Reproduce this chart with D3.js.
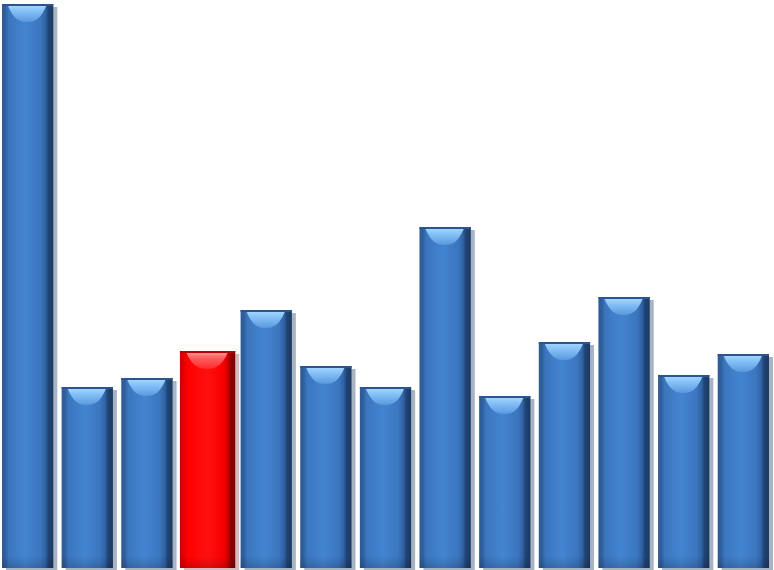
<!DOCTYPE html>
<html>
<head>
<meta charset="utf-8">
<script src="https://cdn.jsdelivr.net/npm/d3@7"></script>
<style>
html,body{margin:0;padding:0;background:#fff;}
svg{display:block;}
</style>
</head>
<body>
<svg id="chart" width="774" height="570"></svg>
<script>
const categories = ["1","2","3","4","5","6","7","8","9","10","11","12","13"];
const values = [564, 181, 190, 217, 258, 202, 181, 341, 172, 226, 271, 193, 214];
const highlighted = ["4"];

const W = 774, H = 570;
const svg = d3.select("#chart");
const x = d3.scaleBand().domain(categories).range([2, 769]).paddingInner(0.14).paddingOuter(0);
const y = d3.scaleLinear().domain([0, d3.max(values)]).range([568, 4]);

const defs = svg.append("defs");
function hgrad(id, stops) {
  const g = defs.append("linearGradient").attr("id", id).attr("x1", 0).attr("x2", 1).attr("y1", 0).attr("y2", 0);
  stops.forEach(s => g.append("stop").attr("offset", s[0]).attr("stop-color", s[1]));
}
function vgrad(id, stops) {
  const g = defs.append("linearGradient").attr("id", id).attr("x1", 0).attr("x2", 0).attr("y1", 0).attr("y2", 1);
  stops.forEach(s => g.append("stop").attr("offset", s[0]).attr("stop-color", s[1]).attr("stop-opacity", s[2] == null ? 1 : s[2]));
}
hgrad("blueBody", [[0,"#2d5a94"],[0.07,"#30609f"],[0.13,"#3b76be"],[0.45,"#4384d0"],[0.75,"#3b76bf"],[0.85,"#3062a3"],[0.9,"#214576"],[1,"#1b3962"]]);
hgrad("redBody", [[0,"#d00000"],[0.07,"#e40000"],[0.14,"#ff0000"],[0.5,"#ff1010"],[0.8,"#f60000"],[0.87,"#c80000"],[0.92,"#900000"],[1,"#7a0000"]]);
vgrad("blueCap", [[0,"#a2d4ff"],[0.3,"#86c2f8"],[1,"#5a98dd"]]);
vgrad("redCap", [[0,"#ff9090"],[0.3,"#ff6060"],[1,"#ff2a2a"]]);
vgrad("bottomShade", [[0,"#000",0],[1,"#000",0.16]]);
defs.append("filter").attr("id", "soft").append("feGaussianBlur").attr("stdDeviation", 0.7);

const data = categories.map((c, i) => ({cat: c, value: values[i], hi: highlighted.includes(c)}));
const bx = d => x(d.cat) - (d.hi ? 1 : 0);
const bw = d => x.bandwidth() + (d.hi ? 4 : 0);

const g = svg.append("g");
const bars = g.selectAll("g.bar").data(data).join("g").attr("class", "bar");

// shadow
bars.append("rect")
  .attr("x", d => bx(d) + 4)
  .attr("y", d => y(d.value) + 3)
  .attr("width", d => bw(d))
  .attr("height", d => 568 - y(d.value) - 1)
  .attr("fill", d => d.hi ? "#c9a3a8" : "#8d9bb0")
  .attr("opacity", 0.75)
  .attr("filter", "url(#soft)");

// body
bars.append("rect")
  .attr("x", d => bx(d))
  .attr("y", d => y(d.value))
  .attr("width", d => bw(d))
  .attr("height", d => 568 - y(d.value))
  .attr("fill", d => d.hi ? "url(#redBody)" : "url(#blueBody)");

// top edge
bars.append("rect")
  .attr("x", d => bx(d))
  .attr("y", d => y(d.value))
  .attr("width", d => bw(d))
  .attr("height", 2)
  .attr("fill", d => d.hi ? "#b80000" : "#2a5590");

// bottom shade
bars.append("rect")
  .attr("x", d => bx(d))
  .attr("y", 556)
  .attr("width", d => bw(d))
  .attr("height", 12)
  .attr("fill", "url(#bottomShade)");

// cap highlight
bars.append("path")
  .attr("d", d => {
    const x0 = bx(d), w = bw(d), ty = y(d.value) + 2;
    const l = x0 + w * 0.12, r = x0 + w * 0.86, cx = x0 + w * 0.49;
    const h = 16;
    return `M${l},${ty} L${r},${ty} C${r - 5},${ty + h * 0.75} ${cx + 9},${ty + h} ${cx},${ty + h} C${cx - 9},${ty + h} ${l + 5},${ty + h * 0.75} ${l},${ty} Z`;
  })
  .attr("fill", d => d.hi ? "url(#redCap)" : "url(#blueCap)")
  .attr("filter", "url(#soft)");
</script>
</body>
</html>
